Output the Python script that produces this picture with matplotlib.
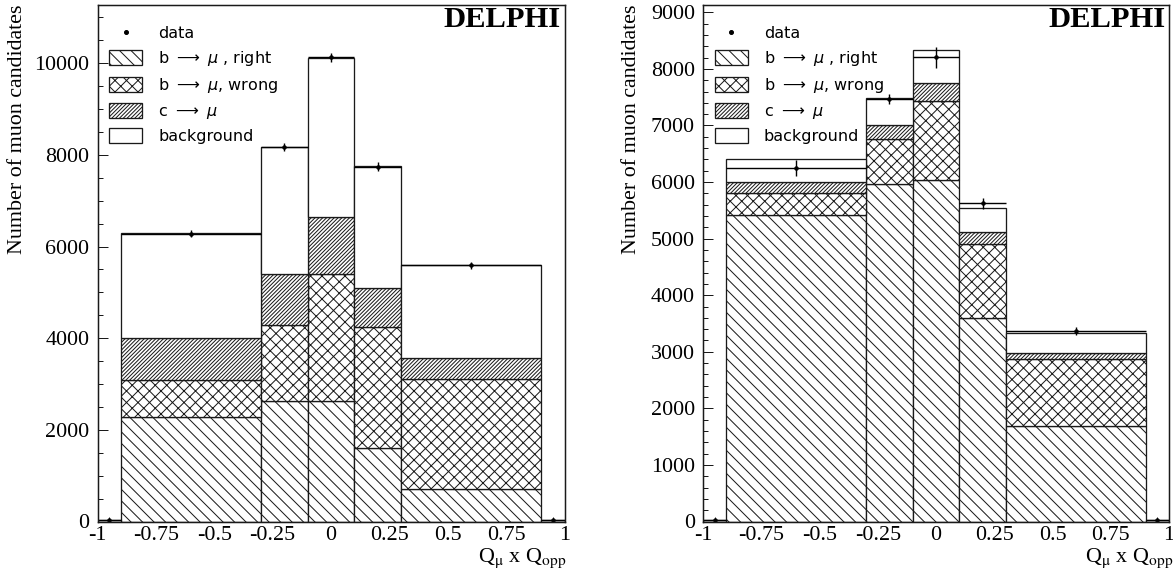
import matplotlib
matplotlib.use('Agg')
import matplotlib.pyplot as plt
import numpy as np
from matplotlib.lines import Line2D
from matplotlib.font_manager import FontProperties
from matplotlib.ticker import MultipleLocator, FuncFormatter

DPI = 69
W, H = 1173, 575
PT = 72.0 / DPI  # points per pixel

plt.rcParams['font.family'] = ['Liberation Serif', 'DejaVu Serif']
plt.rcParams['axes.unicode_minus'] = False
plt.rcParams['hatch.linewidth'] = 1.0 * PT

# ---------------- data ----------------
bin_edges = [-1.0, -0.9, -0.3, -0.1, 0.1, 0.3, 0.9, 1.0]
x_ticks = [-1, -0.75, -0.5, -0.25, 0, 0.25, 0.5, 0.75, 1]
x_tick_labels = ['-1', '-0.75', '-0.5', '-0.25', '0', '0.25', '0.5', '0.75', '1']

labels = ['data', r'b $\longrightarrow$ $\mu$ , right', r'b $\longrightarrow$ $\mu$, wrong',
          r'c $\longrightarrow$ $\mu$', 'background']

# left panel
left_b_right = [0, 2280, 2620, 2620, 1600, 700, 0]
left_b_wrong = [0, 800, 1660, 2780, 2650, 2420, 0]
left_c_mu = [0, 920, 1120, 1250, 840, 440, 0]
left_bkg = [35, 2290, 2780, 3460, 2660, 2040, 35]
left_data = [35, 6285, 8172, 10130, 7745, 5595, 35]
left_err = [15, 80, 90, 100, 90, 75, 15]

# right panel
right_b_right = [0, 5420, 5960, 6030, 3600, 1680, 0]
right_b_wrong = [0, 380, 800, 1410, 1310, 1200, 0]
right_c_mu = [0, 205, 255, 305, 210, 105, 0]
right_bkg = [30, 395, 475, 590, 425, 350, 30]
right_data = [30, 6255, 7475, 8205, 5623, 3363, 30]
right_err = [15, 140, 90, 190, 100, 75, 15]

EC = '#1a1a1a'

fig = plt.figure(figsize=(W / DPI, H / DPI), dpi=DPI)
fig.patch.set_facecolor('white')

ax_l = fig.add_axes([97.5 / W, 1 - 521.5 / H, 467 / W, 516.5 / H])
ax_r = fig.add_axes([703 / W, 1 - 521.5 / H, 466 / W, 516.5 / H])


def draw_panel(ax, comps, data, err, ymax, ymaj, ymin):
    edges = np.array(bin_edges)
    lefts = edges[:-1]
    widths = np.diff(edges)
    centers = lefts + widths / 2
    bottom = np.zeros(len(lefts))
    hatches = ['\\\\', 'xx', '//////', '']
    bars = []
    for vals, hatch in zip(comps, hatches):
        vals = np.array(vals, dtype=float)
        b = ax.bar(lefts, vals, width=widths, bottom=bottom, align='edge',
                   facecolor='white', edgecolor=EC, hatch=hatch,
                   linewidth=1.3 * PT, zorder=2)
        bars.append(b)
        bottom = bottom + vals
    ax.errorbar(centers, data, xerr=widths / 2, yerr=err, fmt='o', color='black',
                ms=3.5 * PT, elinewidth=1.4 * PT, capsize=0, zorder=4)
    ax.set_xlim(-1, 1)
    ax.set_ylim(0, ymax)
    ax.set_xticks(x_ticks)
    ax.set_xticklabels(x_tick_labels)
    ax.xaxis.set_minor_locator(MultipleLocator(0.05))
    ax.yaxis.set_major_locator(MultipleLocator(ymaj))
    ax.yaxis.set_minor_locator(MultipleLocator(ymin))
    ax.yaxis.set_major_formatter(FuncFormatter(lambda v, p: '%d' % round(v)))
    ax.tick_params(which='both', direction='in', top=False, right=False,
                   width=1.0 * PT, color=EC)
    ax.tick_params(which='major', length=10 * PT, labelsize=22 * PT)
    ax.tick_params(which='minor', length=5 * PT)
    ax.tick_params(axis='y', which='major', pad=8 * PT)
    ax.tick_params(axis='x', which='major', pad=4 * PT)
    for s in ax.spines.values():
        s.set_linewidth(1.5 * PT)
        s.set_color(EC)
        s.set_zorder(5)

    fs = 16.0
    prop = FontProperties(family='DejaVu Sans', size=fs * PT, math_fontfamily='dejavusans')
    handles = [Line2D([], [], marker='o', ls='none', color='black', ms=4 * PT)] + bars
    ax.legend(handles, labels, loc='upper left', bbox_to_anchor=(0.0255, 0.961),
              frameon=False, prop=prop, borderpad=0, borderaxespad=0,
              handlelength=33 / fs, handleheight=17 / fs, handletextpad=16 / fs,
              labelspacing=0.49)
    ax.text(0.992, 0.999, 'DELPHI', transform=ax.transAxes, ha='right', va='top',
            fontsize=30.5 * PT, fontweight='bold', family='Liberation Serif', zorder=6)


draw_panel(ax_l, [left_b_right, left_b_wrong, left_c_mu, left_bkg], left_data, left_err,
           11272, 2000, 500)
draw_panel(ax_r, [right_b_right, right_b_wrong, right_c_mu, right_bkg], right_data, right_err,
           9130, 1000, 200)

ylab = 'Number of muon candidates'
fig.text(18 / W, 1 - 5 / H, ylab, rotation=90, ha='center', va='top', fontsize=22 * PT)
fig.text(631 / W, 1 - 5 / H, ylab, rotation=90, ha='center', va='top', fontsize=22 * PT)

xprop = FontProperties(family='Liberation Serif', size=22 * PT, math_fontfamily='stix')
xlab = r'Q$_{\mathrm{\mu}}$ x Q$_{\mathrm{opp}}$'
fig.text(566 / W, 1 - 562 / H, xlab, ha='right', va='baseline', fontproperties=xprop)
fig.text(1085 / W, 1 - 562 / H, xlab, ha='left', va='baseline', fontproperties=xprop)

fig.savefig('out.png', dpi=DPI, facecolor='white')
